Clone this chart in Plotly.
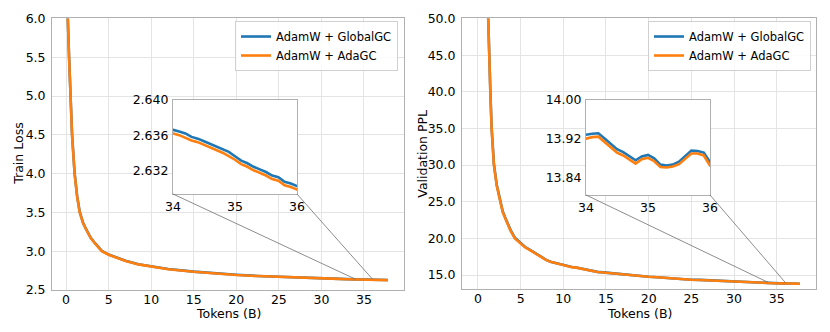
import plotly.graph_objects as go

# tokens seen (billions)
train_tokens = [
    0.10, 0.2, 0.35, 0.5, 0.7, 1.0, 1.3, 1.6, 2.0, 2.4,
    2.9, 3.4, 4.2, 5.0, 6.0, 7.0, 8.5, 10.0, 12.0, 15.0,
    17.5, 20.0, 22.5, 25.0, 27.5, 30.0, 32.0, 33.0,
    34.0, 34.1, 34.2, 34.3, 34.4, 34.5, 34.6, 34.7, 34.8, 34.9,
    35.0, 35.1, 35.2, 35.3, 35.4, 35.5, 35.6, 35.7, 35.8, 35.9,
    36.0, 36.5, 37.0, 37.5, 37.8,
]
train_globalgc = [
    7.02, 6.01, 5.51, 5.01, 4.51, 4.01, 3.71, 3.51, 3.365, 3.274,
    3.173, 3.103, 3.003, 2.957, 2.912, 2.877, 2.832, 2.802, 2.77, 2.737,
    2.714, 2.696, 2.681, 2.669, 2.659, 2.651, 2.645, 2.6399,
    2.6366, 2.6364, 2.6362, 2.6358, 2.6356, 2.6353, 2.6350, 2.6347, 2.6344, 2.6341,
    2.6336, 2.6331, 2.6328, 2.6324, 2.6321, 2.6318, 2.6314, 2.6312, 2.6307, 2.6305,
    2.6302, 2.6296, 2.6291, 2.6286, 2.6283,
]
train_adagc = [
    7.0, 6.0, 5.5, 5.0, 4.5, 4.0, 3.7, 3.5, 3.36, 3.27,
    3.17, 3.1, 3.0, 2.955, 2.91, 2.875, 2.83, 2.80, 2.768, 2.735,
    2.712, 2.694, 2.68, 2.668, 2.658, 2.65, 2.644, 2.6395,
    2.6362, 2.6360, 2.6357, 2.6354, 2.6352, 2.6349, 2.6346, 2.6343, 2.6340, 2.6336,
    2.6332, 2.6327, 2.6324, 2.6320, 2.6317, 2.6314, 2.6310, 2.6308, 2.6303, 2.6301,
    2.6298, 2.6292, 2.6287, 2.6282, 2.6279,
]

val_tokens = [
    1.05, 1.17, 1.29, 1.45, 1.6, 1.72, 1.87, 2.2, 2.58, 2.9,
    3.28, 3.8, 4.33, 5.0, 5.5, 6.1, 6.5, 7.0, 7.5, 8.0,
    8.5, 9.0, 9.5, 10.0, 10.5, 11.0, 11.5, 12.0, 12.5, 13.0,
    13.5, 14.0, 15.0, 16.0, 16.5, 17.5, 18.5, 19.0, 20.0, 21.0,
    22.0, 23.0, 24.0, 25.0, 26.0, 27.0, 28.0, 29.0, 30.0, 31.0,
    32.0, 33.0,
    34.0, 34.1, 34.2, 34.3, 34.4, 34.5, 34.6, 34.7, 34.8, 34.9,
    35.0, 35.1, 35.2, 35.3, 35.4, 35.5, 35.6, 35.7, 35.8, 35.9,
    36.0, 36.5, 37.0, 37.7,
]
val_globalgc = [
    56.2, 50.2, 45.2, 40.2, 35.2, 32.25, 30.15, 27.32, 25.1, 23.7,
    22.6, 21.2, 20.08, 19.32, 18.86, 18.45, 18.15, 17.8, 17.44, 17.08,
    16.83, 16.68, 16.52, 16.39, 16.22, 16.1, 16.04, 15.93, 15.77, 15.62,
    15.52, 15.44, 15.33, 15.21, 15.11, 15.05, 14.96, 14.91, 14.78, 14.71,
    14.61, 14.53, 14.46, 14.37, 14.34, 14.28, 14.21, 14.16, 14.1, 14.06,
    14.01, 13.97,
    13.928, 13.930, 13.931, 13.920, 13.909, 13.898, 13.892, 13.884, 13.875, 13.883,
    13.886, 13.879, 13.866, 13.864, 13.866, 13.872, 13.884, 13.895, 13.894, 13.891,
    13.871, 13.857, 13.836, 13.816,
]
val_adagc = [
    56.0, 50.0, 45.0, 40.0, 35.0, 32.1, 30.0, 27.2, 25.0, 23.6,
    22.5, 21.1, 20.0, 19.25, 18.8, 18.4, 18.1, 17.75, 17.4, 17.05,
    16.8, 16.65, 16.5, 16.37, 16.2, 16.08, 16.02, 15.91, 15.75, 15.6,
    15.5, 15.42, 15.32, 15.2, 15.1, 15.04, 14.95, 14.9, 14.77, 14.7,
    14.6, 14.52, 14.45, 14.36, 14.33, 14.27, 14.2, 14.15, 14.09, 14.05,
    14.0, 13.96,
    13.920, 13.923, 13.924, 13.913, 13.902, 13.891, 13.885, 13.877, 13.868, 13.877,
    13.880, 13.873, 13.861, 13.860, 13.862, 13.867, 13.878, 13.889, 13.889, 13.885,
    13.864, 13.850, 13.830, 13.810,
]

main_xticks = [0, 5, 10, 15, 20, 25, 30, 35]
train_yticks = [2.5, 3.0, 3.5, 4.0, 4.5, 5.0, 5.5, 6.0]
val_yticks = [15.0, 20.0, 25.0, 30.0, 35.0, 40.0, 45.0, 50.0]
inset_xticks = [34, 35, 36]
train_inset_yticks = [2.632, 2.636, 2.640]
val_inset_yticks = [13.84, 13.92, 14.00]

BLUE = '#1f77b4'
ORANGE = '#ff7f0e'
FONT = 'DejaVu Sans'
GRID = '#e4e4e4'
SPINE = '#b0b0b0'

# panel geometry (paper fractions)
dom = {
    'x': [0.0627, 0.4867], 'y': [0.1265, 0.9443],
    'x2': [0.5566, 0.9831], 'y2': [0.1295, 0.9443],
    'x3': [0.2084, 0.3578], 'y3': [0.4157, 0.6988],
    'x4': [0.7060, 0.8554], 'y4': [0.4127, 0.6988],
}
rng = {
    'x': [-1.65, 39.7], 'y': [2.5, 6.0],
    'x2': [-1.87, 39.6], 'y2': [13.1, 50.0],
    'x3': [34, 36], 'y3': [2.6293, 2.640],
    'x4': [34, 36], 'y4': [13.803, 14.0],
}


def to_paper(ax, v):
    d0, d1 = dom[ax]
    r0, r1 = rng[ax]
    return d0 + (v - r0) / (r1 - r0) * (d1 - d0)


fig = go.Figure()

panels = [
    ('x', 'y', train_tokens, train_globalgc, train_adagc, 'legend'),
    ('x2', 'y2', val_tokens, val_globalgc, val_adagc, 'legend2'),
    ('x3', 'y3', train_tokens, train_globalgc, train_adagc, None),
    ('x4', 'y4', val_tokens, val_globalgc, val_adagc, None),
]
for xa, ya, xs, blue, orange, leg in panels:
    for name, ys, color in [('AdamW + GlobalGC', blue, BLUE),
                            ('AdamW + AdaGC', orange, ORANGE)]:
        fig.add_trace(go.Scatter(
            x=xs, y=ys, mode='lines', name=name,
            line=dict(color=color, width=2.6),
            xaxis=xa, yaxis=ya,
            showlegend=leg is not None,
            legend=leg if leg else 'legend',
        ))

tick_font = dict(family=FONT, size=12.5, color='black')


def main_axis(key, ticks, fmt, anchor, standoff):
    return dict(
        domain=dom[key], range=rng[key], anchor=anchor,
        tickvals=ticks, tickformat=fmt, tickfont=tick_font,
        showgrid=True, gridcolor=GRID, gridwidth=1,
        showline=True, linecolor=SPINE, linewidth=1, mirror=True,
        zeroline=False, ticks='', ticklabelstandoff=standoff,
        automargin=False,
    )


def inset_axis(key, ticks, fmt, anchor):
    return dict(
        domain=dom[key], range=rng[key], anchor=anchor,
        tickvals=ticks, tickformat=fmt, tickfont=tick_font,
        showgrid=False, showline=True, linecolor=SPINE, linewidth=1,
        mirror=True, zeroline=False, ticks='', ticklabelstandoff=1,
        automargin=False,
    )


legend_style = dict(
    font=dict(family=FONT, size=11.5, color='black'),
    bgcolor='rgba(255,255,255,0.85)', bordercolor='#d0d0d0', borderwidth=1,
    xanchor='right', yanchor='top', itemwidth=30, tracegroupgap=0,
)

fig.update_layout(
    width=830, height=332,
    margin=dict(l=0, r=0, t=0, b=0),
    paper_bgcolor='white', plot_bgcolor='white',
    font=dict(family=FONT),
    xaxis=main_axis('x', main_xticks, 'd', 'y', -2),
    yaxis=main_axis('y', train_yticks, '.1f', 'x', 3),
    xaxis2=main_axis('x2', main_xticks, 'd', 'y2', -2),
    yaxis2=main_axis('y2', val_yticks, '.1f', 'x2', 3),
    xaxis3=inset_axis('x3', inset_xticks, 'd', 'y3'),
    yaxis3=inset_axis('y3', train_inset_yticks, '.3f', 'x3'),
    xaxis4=inset_axis('x4', inset_xticks, 'd', 'y4'),
    yaxis4=inset_axis('y4', val_inset_yticks, '.2f', 'x4'),
    legend=dict(x=0.4795, y=0.9367, **legend_style),
    legend2=dict(x=0.9771, y=0.9367, **legend_style),
)

# axis titles
titles = [
    ('Tokens (B)', 0.2747, 0.0572, 0),
    ('Tokens (B)', 0.7699, 0.0572, 0),
    ('Train Loss', 0.0229, 0.537, -90),
    ('Validation PPL', 0.5096, 0.537, -90),
]
for text, x, y, angle in titles:
    fig.add_annotation(
        text=text, x=x, y=y, xref='paper', yref='paper',
        xanchor='center', yanchor='middle', textangle=angle,
        showarrow=False, font=tick_font,
    )

# inset connector lines (mark_inset style)
shapes = []
for main_x, main_y, ins_x, ins_y in [('x', 'y', 'x3', 'y3'), ('x2', 'y2', 'x4', 'y4')]:
    top = rng[ins_y][1]
    for corner, xv in [(0, rng[ins_x][0]), (1, rng[ins_x][1])]:
        shapes.append(dict(
            type='line', xref='paper', yref='paper',
            x0=dom[ins_x][corner], y0=dom[ins_y][0],
            x1=to_paper(main_x, xv), y1=to_paper(main_y, top),
            line=dict(color='#707070', width=0.8),
        ))
fig.update_layout(shapes=shapes)

# drop the browser's default 8px body margin so the figure sits at (0, 0)
fig.write_html(
    "out.html",
    config={'displayModeBar': False},
    post_script="document.body.style.margin='0';",
)
